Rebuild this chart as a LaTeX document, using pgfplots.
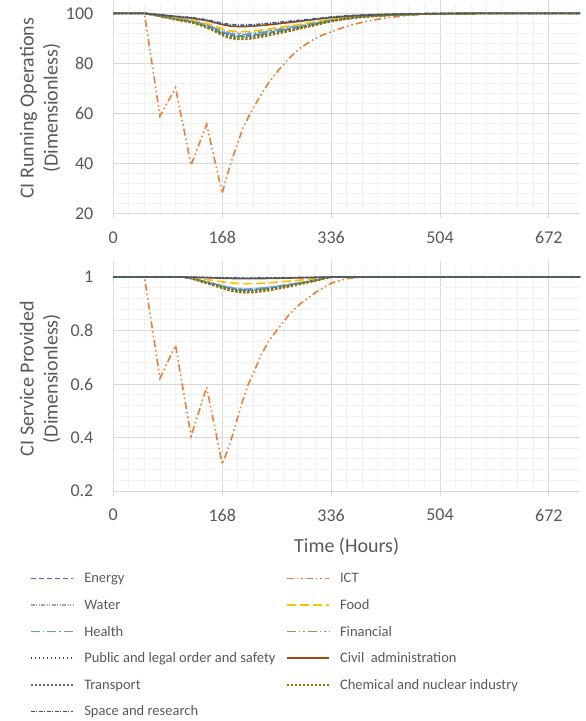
\documentclass[border=0pt]{standalone}
\usepackage{fontspec}
\setmainfont{Carlito}
\usepackage{pgfplots}
\usepackage{pgfplotstable}
\pgfplotsset{compat=1.18}

\definecolor{cEnergy}{HTML}{4472C4}
\definecolor{cICT}{HTML}{ED7D31}
\definecolor{cWater}{HTML}{A5A5A5}
\definecolor{cFood}{HTML}{FFC000}
\definecolor{cHealth}{HTML}{5B9BD5}
\definecolor{cFin}{HTML}{70AD47}
\definecolor{cPublic}{HTML}{264478}
\definecolor{cCivil}{HTML}{9E480E}
\definecolor{cTrans}{HTML}{636363}
\definecolor{cChem}{HTML}{997300}
\definecolor{cSpace}{HTML}{255E91}
\definecolor{gridmaj}{HTML}{D9D9D9}
\definecolor{gridmin}{HTML}{F2F2F2}
\definecolor{labgray}{HTML}{595959}

% running operations, all sectors except ICT
\pgfplotstableread{
t   energy water food health fin  public civil trans chem  space
0   100    100   100  100    100  100    100   100   100   100
48  100    100   100  100    100  100    100   100   100   100
72  98.9   99.0  99.1 99.0   98.9 98.8   99.4  98.8  98.8  99.4
96  97.8   98.0  98.2 97.9   97.7 97.6   98.7  97.6  97.4  98.8
120 96.8   97.1  97.4 96.9   96.7 96.5   98.1  96.5  96.3  98.3
144 95.1   95.6  96.0 95.3   94.9 94.7   97.1  94.6  94.3  97.4
168 92.4   93.2  93.8 92.8   92.1 91.8   95.5  91.7  91.2  96.0
180 91.4   92.3  93.0 91.8   91.1 90.8   94.9  90.6  90.0  95.5
192 91.0   92.0  92.7 91.5   90.7 90.4   94.7  90.2  89.6  95.3
204 91.0   92.0  92.7 91.5   90.7 90.4   94.7  90.2  89.6  95.3
216 91.3   92.2  92.9 91.8   91.0 90.7   94.9  90.5  89.9  95.4
240 92.3   93.1  93.7 92.7   92.0 91.7   95.4  91.6  91.1  96.0
264 93.4   94.2  94.7 93.8   93.2 93.0   96.1  92.8  92.4  96.6
288 94.6   95.2  95.6 94.9   94.4 94.2   96.8  94.1  93.8  97.2
312 95.9   96.3  96.6 96.1   95.7 95.6   97.6  95.5  95.2  97.8
336 97.1   97.4  97.7 97.3   97.0 96.9   98.3  96.9  96.7  98.5
360 98.0   98.2  98.4 98.1   98.0 97.9   98.8  97.8  97.7  99.0
384 98.7   98.8  98.9 98.7   98.6 98.6   99.2  98.5  98.4  99.3
432 99.4   99.4  99.5 99.4   99.3 99.3   99.6  99.3  99.3  99.7
480 99.7   99.8  99.8 99.7   99.7 99.7   99.8  99.7  99.7  99.9
528 99.9   99.9  99.9 99.9   99.9 99.9   99.9  99.9  99.9  100
600 100    100   100  100    100  100    100   100   100   100
720 100    100   100  100    100  100    100   100   100   100
}\opdata

\pgfplotstableread{
t   v
0   100
48  100
72  58.9
96  70.2
120 39.3
144 55.6
168 28.0
176 35.5
184 42.2
192 48.2
200 54.1
212 60.3
226 66.6
240 72.4
256 77.6
272 82.2
288 86.0
304 88.8
320 91.0
336 92.6
360 94.8
384 96.4
408 97.6
432 98.5
456 99.2
480 99.7
504 100
720 100
}\opict

% service provided, all sectors except ICT
\pgfplotstableread{
t   energy water  food   health fin    public civil  trans  chem   space
0   1      1      1      1      1      1      1      1      1      1
108 1      1      1      1      1      1      1      1      1      1
120 0.9952 0.9956 0.9975 0.9954 0.995  0.9948 0.9994 0.9946 0.9941 0.9996
144 0.9808 0.9824 0.990  0.9816 0.980  0.9792 0.9976 0.9784 0.9764 0.9984
168 0.9654 0.9683 0.982  0.9669 0.964  0.9626 0.9957 0.9611 0.9575 0.9971
180 0.9582 0.9617 0.9783 0.960  0.9565 0.9548 0.9948 0.953  0.9487 0.9965
192 0.9539 0.9578 0.976  0.9558 0.952  0.9501 0.9942 0.9482 0.9434 0.9962
204 0.952  0.956  0.975  0.954  0.950  0.948  0.994  0.946  0.941  0.996
216 0.953  0.9569 0.9755 0.9549 0.951  0.949  0.9941 0.9471 0.9422 0.9961
228 0.9554 0.9591 0.9768 0.9572 0.9535 0.9516 0.9944 0.9498 0.9451 0.9963
240 0.9587 0.9622 0.9785 0.9604 0.957  0.9553 0.9948 0.9536 0.9493 0.9966
264 0.9674 0.9701 0.983  0.9687 0.966  0.9646 0.9959 0.9633 0.9599 0.9973
288 0.9774 0.9793 0.9883 0.9784 0.9765 0.9756 0.9972 0.9746 0.9723 0.9981
312 0.988  0.989  0.9938 0.9885 0.9875 0.987  0.9985 0.9865 0.9853 0.999
324 0.9942 0.9947 0.997  0.9945 0.994  0.9938 0.9993 0.9935 0.9929 0.9995
336 1      1      1      1      1      1      1      1      1      1
720 1      1      1      1      1      1      1      1      1      1
}\svdata

\pgfplotstableread{
t   v
0   1
48  1
72  0.621
96  0.745
120 0.405
144 0.588
168 0.300
176 0.350
184 0.410
192 0.475
200 0.540
208 0.597
216 0.640
228 0.708
240 0.762
256 0.812
272 0.862
288 0.899
312 0.942
336 0.977
360 0.994
384 1
720 1
}\svict

\tikzset{
  sEnergy/.style={draw=cEnergy, dash pattern=on 5pt off 3pt},
  sICT/.style={draw=cICT, dash pattern=on 7pt off 3pt on 1.5pt off 3pt on 1.5pt off 3pt},
  sWater/.style={draw=cWater, dash pattern=on 4pt off 1.5pt on 1pt off 1.5pt on 1pt off 1.5pt},
  sFood/.style={draw=cFood, dash pattern=on 9pt off 4pt},
  sHealth/.style={draw=cHealth, dash pattern=on 9pt off 3pt on 1.5pt off 3pt},
  sFin/.style={draw=cFin, dash pattern=on 9pt off 3pt on 1.5pt off 3pt on 1.5pt off 3pt},
  sPublic/.style={draw=cPublic, dash pattern=on 1.2pt off 2.8pt},
  sCivil/.style={draw=cCivil},
  sTrans/.style={draw=cTrans, dash pattern=on 2pt off 2pt},
  sChem/.style={draw=cChem, dash pattern=on 2.5pt off 1.5pt},
  sSpace/.style={draw=cSpace, dash pattern=on 4pt off 1.5pt on 1pt off 1.5pt},
}

\pgfplotsset{
  ciaxis/.style={
    scale only axis, width=466.7pt,
    xmin=0, xmax=720, xtick={0,168,336,504,672}, minor x tick num=6,
    grid=both,
    major grid style={draw=gridmaj, line width=0.9pt},
    minor grid style={draw=gridmin, line width=0.9pt},
    axis line style={draw=none},
    tick align=outside, major tick length=5pt, minor tick length=0pt,
    xtick style={draw=gridmaj, line width=0.9pt},
    ytick style={draw=none},
    /pgf/number format/assume math mode=true,
    ticklabel style={font=\fontsize{18}{21}\selectfont, text=labgray, inner sep=0pt},
    xticklabel style={anchor=north, yshift=-13pt},
    yticklabel style={anchor=east, xshift=-14.8pt},
    label style={font=\fontsize{20}{24}\selectfont, text=labgray},
    ylabel style={at={(axis description cs:-0.157,0.5)}, anchor=center, align=center},
    every axis plot/.append style={line width=1.6pt},
  },
}

\begin{document}
\begin{tikzpicture}
\useasboundingbox (0pt,0pt) rectangle (586pt,-721pt);

% ----- running operations
\begin{axis}[ciaxis,
  at={(113.3pt,-213.3pt)}, anchor=south west,
  height=210pt,
  ymin=20, ymax=104, ytick={20,40,60,80,100}, minor y tick num=4,
  ylabel={CI Running Operations\\(Dimensionless)},
]
  \addplot[sEnergy] table[x=t, y=energy] {\opdata};
  \addplot[sICT]    table[x=t, y=v]      {\opict};
  \addplot[sWater]  table[x=t, y=water]  {\opdata};
  \addplot[sFood]   table[x=t, y=food]   {\opdata};
  \addplot[sHealth] table[x=t, y=health] {\opdata};
  \addplot[sFin]    table[x=t, y=fin]    {\opdata};
  \addplot[sPublic] table[x=t, y=public] {\opdata};
  \addplot[sCivil]  table[x=t, y=civil]  {\opdata};
  \addplot[sTrans]  table[x=t, y=trans]  {\opdata};
  \addplot[sChem]   table[x=t, y=chem]   {\opdata};
  \addplot[sSpace]  table[x=t, y=space]  {\opdata};
\end{axis}

% ----- service provided
\begin{axis}[ciaxis,
  at={(113.3pt,-491pt)}, anchor=south west,
  height=224.7pt,
  ymin=0.2, ymax=1.04, ytick={0.2,0.4,0.6,0.8,1}, minor y tick num=4,
  ylabel={CI Service Provided\\(Dimensionless)},
  xlabel={Time (Hours)},
  xlabel style={at={(axis description cs:0.5,-0.2492)}, anchor=center},
  legend columns=2, legend cell align=left,
  legend image code/.code={\draw[#1, line width=1.6pt] (0pt,0pt) -- (42.7pt,0pt);},
  legend style={draw=none, fill=none, inner sep=0pt, outer sep=0pt,
    at={(axis description cs:-0.1785,-0.3462)}, anchor=north west,
    font=\fontsize{14.5}{17}\selectfont, text=labgray,
    row sep=7.6pt,
    nodes={text height=12pt, text depth=3pt, inner sep=2pt},
    /tikz/every odd column/.append style={column sep=8pt},
    /tikz/every even column/.append style={column sep=8.3pt}},
]
  \addplot[sEnergy] table[x=t, y=energy] {\svdata};
  \addlegendentry{Energy}
  \addplot[sICT]    table[x=t, y=v]      {\svict};
  \addlegendentry{ICT}
  \addplot[sWater]  table[x=t, y=water]  {\svdata};
  \addlegendentry{Water}
  \addplot[sFood]   table[x=t, y=food]   {\svdata};
  \addlegendentry{Food}
  \addplot[sHealth] table[x=t, y=health] {\svdata};
  \addlegendentry{Health}
  \addplot[sFin]    table[x=t, y=fin]    {\svdata};
  \addlegendentry{Financial}
  \addplot[sPublic] table[x=t, y=public] {\svdata};
  \addlegendentry{Public and legal order and safety}
  \addplot[sCivil]  table[x=t, y=civil]  {\svdata};
  \addlegendentry{Civil\ \ administration}
  \addplot[sTrans]  table[x=t, y=trans]  {\svdata};
  \addlegendentry{Transport}
  \addplot[sChem]   table[x=t, y=chem]   {\svdata};
  \addlegendentry{Chemical and nuclear industry}
  \addplot[sSpace]  table[x=t, y=space]  {\svdata};
  \addlegendentry{Space and research}
\end{axis}
\end{tikzpicture}
\end{document}
